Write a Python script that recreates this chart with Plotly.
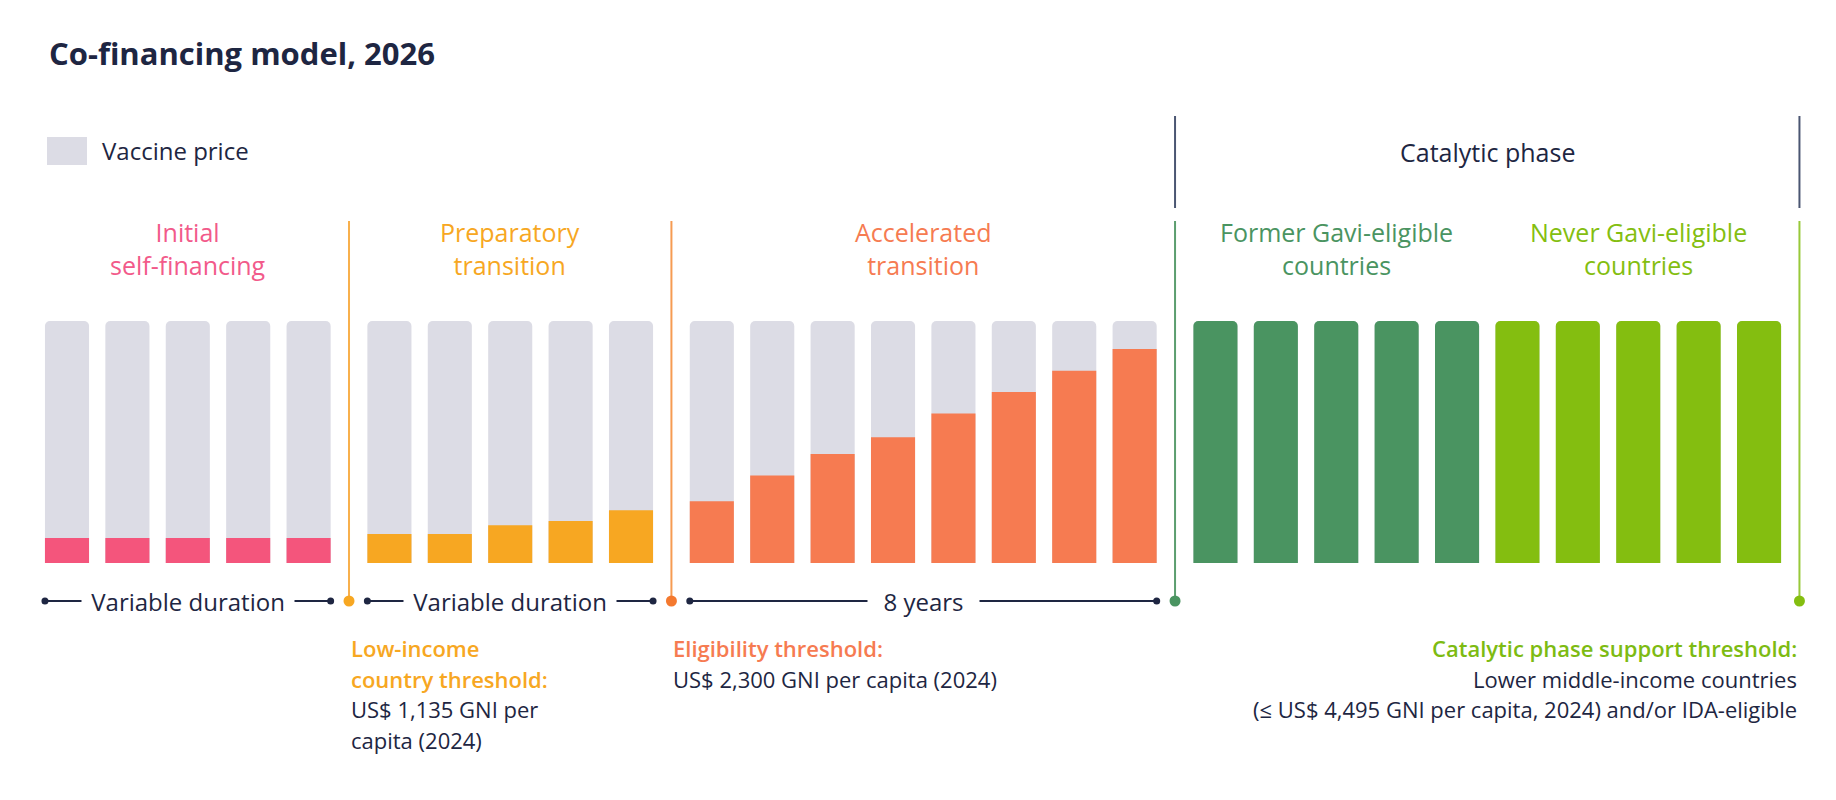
import plotly.graph_objects as go

# ---------------- data ----------------
phase_names = ["Initial<br>self-financing", "Preparatory<br>transition", "Accelerated<br>transition",
               "Former Gavi-eligible<br>countries", "Never Gavi-eligible<br>countries"]
initial_share = [0.103, 0.103, 0.103, 0.103, 0.103]
preparatory_share = [0.12, 0.12, 0.156, 0.174, 0.218]
accelerated_share = [0.255, 0.362, 0.45, 0.52, 0.618, 0.707, 0.794, 0.884]
former_share = [1.0, 1.0, 1.0, 1.0, 1.0]
never_share = [1.0, 1.0, 1.0, 1.0, 1.0]
vaccine_price = 1.0
duration_labels = ["Variable duration", "Variable duration", "8 years"]

# ---------------- style ----------------
W, H = 1836, 800
FONT = "Open Sans"
NAVY = "#1E2642"
GRAY = "#DCDCE5"
PINK = "#F4557C"
PINK_TXT = "#F25A8A"
ORANGE = "#F7A722"
CORAL = "#F67B51"
DGREEN = "#4A9461"
LGREEN = "#84BE10"
SLATE = "#4B5672"

share_groups = [initial_share, preparatory_share, accelerated_share, former_share, never_share]
colors = [PINK, ORANGE, CORAL, DGREEN, LGREEN]
label_colors = [PINK_TXT, ORANGE, CORAL, DGREEN, LGREEN]
gap_group = [0, 1, 2, 3, 3]
GAP = 0.338
BAR_W = 0.73

# pixel mapping of axes (layout only)
X0_PX, SLOT_PX = 59.0, 60.4
Y0_PX, UNIT_PX = 555.0, 242.0

def ypx(py):
    return (Y0_PX - py) / UNIT_PX

def paper_y(py):
    return 1 - py / H

fig = go.Figure()

# x positions from indices
group_x = []
k = 0
for shares, g in zip(share_groups, gap_group):
    xs = []
    for _ in shares:
        xs.append(k + GAP * g)
        k += 1
    group_x.append(xs)

all_x = [x for xs in group_x for x in xs]
fig.add_trace(go.Bar(x=all_x, y=[vaccine_price] * len(all_x), width=BAR_W,
                     marker=dict(color=GRAY, cornerradius=5, line=dict(width=0)),
                     name="Vaccine price", showlegend=False, hoverinfo="skip"))
for xs, shares, c, nm in zip(group_x, share_groups, colors, phase_names):
    fig.add_trace(go.Bar(x=xs, y=shares, width=BAR_W,
                         marker=dict(color=c, cornerradius=5, line=dict(width=0)),
                         name=nm.replace("<br>", " "), showlegend=False, hoverinfo="skip"))

half = (1 + GAP) / 2
b1 = group_x[0][-1] + half
b2 = group_x[1][-1] + half
b3 = group_x[2][-1] + half
b4 = group_x[4][-1] + half

y_row = ypx(593)
y_line_top = ypx(213)
y_dark_top = ypx(108)
y_dark_bot = ypx(200)

# vertical phase lines
for bx, col in [(b1, "#F8B04C"), (b2, "#F69B52"), (b3, "#5C9E6F"), (b4, "#98C93A")]:
    fig.add_trace(go.Scatter(x=[bx, bx], y=[y_row, y_line_top], mode="lines",
                             line=dict(color=col, width=2), showlegend=False, hoverinfo="skip"))
for bx in [b3, b4]:
    fig.add_trace(go.Scatter(x=[bx, bx], y=[y_dark_bot, y_dark_top], mode="lines",
                             line=dict(color=SLATE, width=2), showlegend=False, hoverinfo="skip"))

# duration rows
NB = "\u00a0"
for xs, lab, pad in zip(group_x[:3], duration_labels, [1, 1, 2]):
    xl, xr = xs[0] - BAR_W / 2, xs[-1] + BAR_W / 2
    fig.add_trace(go.Scatter(x=[xl, xr], y=[y_row, y_row], mode="lines+markers",
                             line=dict(color=NAVY, width=2),
                             marker=dict(color=NAVY, size=7),
                             showlegend=False, hoverinfo="skip"))
    fig.add_annotation(x=(xl + xr) / 2, y=y_row, xref="x", yref="y",
                       text=NB * pad + lab + NB * pad,
                       showarrow=False, bgcolor="white", borderpad=3,
                       font=dict(family=FONT, size=24, color=NAVY))

# boundary dots
fig.add_trace(go.Scatter(x=[b1, b2, b3, b4], y=[y_row] * 4, mode="markers",
                         marker=dict(color=[ORANGE, "#F4792F", DGREEN, LGREEN], size=11),
                         showlegend=False, hoverinfo="skip"))

# phase labels
label_x = [sum(xs) / len(xs) for xs in group_x]
for lx, nm, c in zip(label_x, phase_names, label_colors):
    fig.add_annotation(x=lx, y=paper_y(240), xref="x", yref="paper", text=nm,
                       showarrow=False, yanchor="middle",
                       font=dict(family=FONT, size=25, color=c))
fig.add_annotation(x=(b3 + b4) / 2, y=paper_y(144), xref="x", yref="paper",
                   text="Catalytic phase", showarrow=False, yanchor="middle",
                   font=dict(family=FONT, size=25, color=NAVY))

# title
fig.add_annotation(x=39 / W, y=paper_y(45), xref="paper", yref="paper",
                   text="<b>Co-financing model, 2026</b>", showarrow=False,
                   xanchor="left", yanchor="middle",
                   font=dict(family=FONT, size=31, color=NAVY))

# legend swatch
fig.add_shape(type="rect", xref="paper", yref="paper",
              x0=39 / W, x1=79 / W, y0=paper_y(157), y1=paper_y(129),
              fillcolor=GRAY, line=dict(width=0))
fig.add_annotation(x=92 / W, y=paper_y(143), xref="paper", yref="paper",
                   text="Vaccine price", showarrow=False, xanchor="left", yanchor="middle",
                   font=dict(family=FONT, size=24, color=NAVY))

# threshold notes: one annotation per line for exact spacing
LINE0, LSTEP = 640, 30.5

def note(x, anchor, heads, bodies, hcol):
    i = 0
    for t in heads:
        fig.add_annotation(x=x, y=paper_y(LINE0 + LSTEP * i), xref="x", yref="paper", text=t,
                           showarrow=False, xanchor=anchor, yanchor="middle",
                           font=dict(family=FONT, size=22, color=hcol, weight=600))
        i += 1
    for t in bodies:
        fig.add_annotation(x=x, y=paper_y(LINE0 + LSTEP * i), xref="x", yref="paper", text=t,
                           showarrow=False, xanchor=anchor, yanchor="middle",
                           font=dict(family=FONT, size=22, color=NAVY))
        i += 1

note(b1, "left", ["Low-income", "country threshold:"], ["US$ 1,135 GNI per", "capita (2024)"], ORANGE)
note(b2, "left", ["Eligibility threshold:"], ["US$ 2,300 GNI per capita (2024)"], CORAL)
note(b4, "right", ["Catalytic phase support threshold:"],
     ["Lower middle-income countries", "(≤ US$ 4,495 GNI per capita, 2024) and/or IDA-eligible"],
     "#7DBB12")

fig.update_layout(
    width=W, height=H, barmode="overlay",
    margin=dict(l=0, r=0, t=0, b=0),
    paper_bgcolor="white", plot_bgcolor="white",
    xaxis=dict(range=[-X0_PX / SLOT_PX, (W - X0_PX) / SLOT_PX], visible=False, fixedrange=True),
    yaxis=dict(range=[(Y0_PX - H) / UNIT_PX, Y0_PX / UNIT_PX], visible=False, fixedrange=True),
    showlegend=False,
)

fig.write_html("out.html")
